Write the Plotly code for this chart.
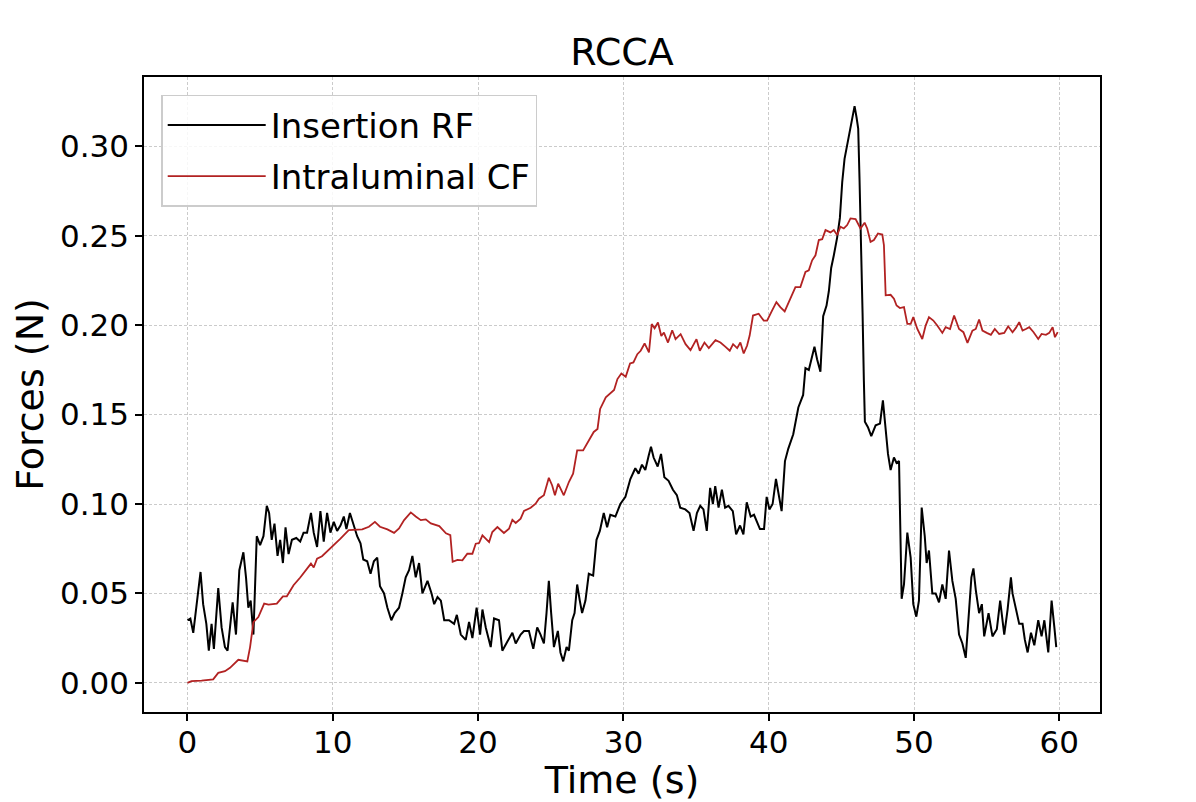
import plotly.graph_objects as go

# values (time in s, force in N)
time_rf = [0, 0.2, 0.4, 0.6, 0.9, 1.08, 1.3, 1.47, 1.66, 1.82, 2.12, 2.35, 2.58, 2.76, 2.93, 3.11, 3.34, 3.57, 3.85, 4.03,
           4.19, 4.35, 4.54, 4.65, 4.77, 5.0, 5.23, 5.46, 5.62, 5.8, 5.99, 6.2, 6.38, 6.57, 6.75, 6.96, 7.19, 7.49, 7.76, 7.99,
           8.23, 8.5, 8.69, 8.92, 9.15, 9.38, 9.61, 9.84, 10.07, 10.3, 10.53, 10.76, 10.94, 11.18, 11.45, 11.68, 11.91, 12.1, 12.37, 12.6,
           12.83, 13.06, 13.25, 13.53, 13.76, 14.03, 14.26, 14.56, 14.79, 15.02, 15.25, 15.48, 15.71, 15.94, 16.17, 16.52, 16.8, 16.98, 17.21, 17.44,
           17.67, 18.0, 18.35, 18.54, 18.81, 19.15, 19.38, 19.61, 19.9, 20.14, 20.3, 20.53, 20.87, 21.1, 21.44, 21.67, 22.01, 22.36, 22.59, 22.93,
           23.16, 23.5, 23.8, 24.07, 24.3, 24.53, 24.71, 24.87, 25.03, 25.22, 25.49, 25.67, 25.86, 26.09, 26.25, 26.48, 26.64, 26.82, 27.0, 27.16,
           27.39, 27.62, 27.92, 28.15, 28.38, 28.65, 28.88, 29.1, 29.45, 29.79, 30.14, 30.48, 30.82, 31.05, 31.28, 31.51, 31.74, 31.9, 32.08, 32.36,
           32.59, 32.82, 33.11, 33.41, 33.68, 33.91, 34.26, 34.55, 34.83, 35.06, 35.29, 35.51, 35.74, 35.97, 36.16, 36.32, 36.55, 36.78, 37.0, 37.23,
           37.53, 37.76, 38.03, 38.26, 38.49, 38.76, 38.99, 39.22, 39.4, 39.68, 39.86, 40.05, 40.27, 40.5, 40.66, 40.89, 41.12, 41.35, 41.69, 42.04,
           42.37, 42.53, 42.76, 42.92, 43.15, 43.33, 43.56, 43.75, 43.98, 44.14, 44.3, 44.48, 44.71, 44.9, 45.06, 45.22, 45.4, 45.59, 45.75, 45.91,
           46.05, 46.16, 46.25, 46.37, 46.46, 46.55, 46.62, 46.83, 47.06, 47.36, 47.66, 47.86, 48.05, 48.21, 48.39, 48.62, 48.8, 48.97, 49.03, 49.15,
           49.31, 49.54, 49.77, 49.95, 50.16, 50.34, 50.53, 50.74, 50.87, 51.03, 51.26, 51.49, 51.72, 51.95, 52.18, 52.41, 52.64, 52.87, 53.1, 53.33,
           53.56, 53.79, 53.95, 54.09, 54.25, 54.48, 54.67, 54.83, 55.13, 55.4, 55.7, 55.93, 56.21, 56.44, 56.67, 56.78, 57.01, 57.24, 57.47, 57.63,
           57.82, 58.05, 58.28, 58.55, 58.78, 58.97, 59.24, 59.47, 59.66, 59.79]
force_rf = [0.035, 0.036, 0.028, 0.042, 0.062, 0.044, 0.033, 0.018, 0.033, 0.019, 0.053, 0.031, 0.020, 0.018, 0.031, 0.045, 0.027, 0.063, 0.073, 0.059,
            0.042, 0.046, 0.027, 0.052, 0.082, 0.077, 0.082, 0.099, 0.095, 0.080, 0.089, 0.071, 0.080, 0.067, 0.087, 0.072, 0.080, 0.081, 0.079, 0.084,
            0.084, 0.095, 0.084, 0.076, 0.096, 0.079, 0.095, 0.084, 0.090, 0.085, 0.088, 0.093, 0.086, 0.095, 0.088, 0.082, 0.078, 0.069, 0.068, 0.061,
            0.068, 0.070, 0.054, 0.050, 0.042, 0.035, 0.039, 0.042, 0.050, 0.059, 0.063, 0.071, 0.059, 0.067, 0.050, 0.057, 0.050, 0.044, 0.048, 0.046,
            0.035, 0.035, 0.033, 0.038, 0.027, 0.024, 0.034, 0.025, 0.042, 0.027, 0.041, 0.031, 0.020, 0.036, 0.035, 0.018, 0.023, 0.028, 0.022, 0.027,
            0.029, 0.029, 0.019, 0.031, 0.027, 0.022, 0.039, 0.057, 0.039, 0.020, 0.029, 0.017, 0.012, 0.020, 0.018, 0.035, 0.039, 0.055, 0.046, 0.039,
            0.046, 0.061, 0.060, 0.080, 0.085, 0.095, 0.087, 0.094, 0.093, 0.100, 0.104, 0.114, 0.120, 0.117, 0.122, 0.119, 0.127, 0.132, 0.126, 0.121,
            0.128, 0.115, 0.113, 0.108, 0.105, 0.098, 0.097, 0.095, 0.085, 0.095, 0.099, 0.097, 0.085, 0.109, 0.100, 0.110, 0.098, 0.108, 0.098, 0.099,
            0.096, 0.083, 0.088, 0.083, 0.101, 0.093, 0.094, 0.090, 0.086, 0.086, 0.104, 0.097, 0.100, 0.114, 0.106, 0.096, 0.124, 0.131, 0.139, 0.154,
            0.161, 0.176, 0.175, 0.180, 0.188, 0.181, 0.174, 0.205, 0.211, 0.219, 0.232, 0.239, 0.249, 0.260, 0.280, 0.293, 0.301, 0.310, 0.317, 0.3225,
            0.316, 0.310, 0.282, 0.245, 0.207, 0.169, 0.146, 0.143, 0.138, 0.144, 0.145, 0.158, 0.140, 0.128, 0.119, 0.126, 0.123, 0.124, 0.098, 0.047,
            0.055, 0.084, 0.070, 0.044, 0.037, 0.046, 0.098, 0.082, 0.067, 0.074, 0.050, 0.050, 0.045, 0.055, 0.047, 0.074, 0.057, 0.047, 0.027, 0.022,
            0.014, 0.042, 0.059, 0.064, 0.052, 0.039, 0.044, 0.026, 0.039, 0.026, 0.030, 0.046, 0.027, 0.041, 0.059, 0.050, 0.042, 0.033, 0.033, 0.024,
            0.017, 0.028, 0.021, 0.035, 0.026, 0.035, 0.017, 0.046, 0.031, 0.020]

time_cf = [0, 0.28, 0.97, 1.77, 2.12, 2.58, 2.93, 3.5, 4.12, 4.31, 4.54, 4.88, 5.28, 5.58, 6.15, 6.57, 6.84, 7.3, 7.76, 8.23,
           8.5, 8.69, 8.92, 9.26, 9.84, 10.53, 11.1, 11.57, 12.03, 12.49, 12.9, 13.25, 13.76, 14.22, 14.56, 14.91, 15.37, 15.71, 16.06, 16.4,
           16.75, 17.33, 17.79, 18.09, 18.25, 18.58, 18.92, 19.26, 19.61, 19.84, 20.07, 20.3, 20.76, 20.98, 21.33, 21.78, 22.13, 22.36, 22.59, 22.93,
           23.16, 23.62, 23.96, 24.19, 24.53, 24.87, 25.1, 25.29, 25.51, 25.9, 26.25, 26.54, 26.82, 27.23, 27.5, 27.96, 28.22, 28.4, 28.79, 29.13,
           29.36, 29.59, 29.86, 30.16, 30.46, 30.69, 30.96, 31.19, 31.46, 31.76, 31.95, 32.15, 32.38, 32.61, 32.79, 33.07, 33.36, 33.59, 33.94, 34.28,
           34.62, 35.03, 35.26, 35.58, 35.88, 36.34, 36.68, 37.03, 37.32, 37.55, 37.83, 38.05, 38.28, 38.51, 38.69, 38.92, 39.31, 39.66, 39.89, 40.23,
           40.53, 40.8, 41.1, 41.49, 41.84, 42.18, 42.53, 42.76, 42.99, 43.22, 43.45, 43.68, 43.91, 44.25, 44.48, 44.71, 44.94, 45.17, 45.4, 45.63,
           45.98, 46.32, 46.6, 46.78, 47.01, 47.24, 47.52, 47.82, 47.93, 48.05, 48.39, 48.62, 48.8, 49.03, 49.31, 49.54, 49.77, 49.95, 50.23, 50.57,
           50.8, 51.03, 51.33, 51.6, 51.95, 52.18, 52.48, 52.76, 53.1, 53.4, 53.68, 54.02, 54.25, 54.48, 54.71, 55.01, 55.29, 55.56, 55.86, 56.21,
           56.48, 56.78, 57.01, 57.24, 57.47, 57.7, 57.93, 58.23, 58.55, 58.78, 59.08, 59.31, 59.54, 59.7, 59.89]
force_cf = [0, 0.001, 0.0013, 0.002, 0.0056, 0.0065, 0.0084, 0.0129, 0.012, 0.020, 0.034, 0.0368, 0.0443, 0.0437, 0.0443, 0.0484, 0.0484, 0.0546, 0.0589, 0.0639,
            0.0667, 0.0645, 0.0695, 0.0708, 0.0751, 0.0807, 0.0854, 0.0858, 0.0858, 0.0873, 0.090, 0.0873, 0.0858, 0.0839, 0.0864, 0.091, 0.0953, 0.093, 0.091, 0.0914,
            0.0892, 0.0877, 0.0836, 0.0826, 0.0677, 0.0688, 0.0685, 0.0722, 0.0722, 0.0778, 0.0782, 0.0825, 0.0787, 0.0843, 0.0871, 0.0838, 0.0862, 0.0912, 0.0894, 0.0918,
            0.0961, 0.0979, 0.1002, 0.103, 0.1049, 0.1147, 0.1104, 0.1049, 0.1114, 0.1049, 0.1123, 0.117, 0.130, 0.130, 0.1338, 0.1403, 0.142, 0.1532, 0.1597, 0.1625,
            0.1638, 0.1699, 0.173, 0.1712, 0.1786, 0.1792, 0.1838, 0.1857, 0.1898, 0.1848, 0.2006, 0.1983, 0.2015, 0.194, 0.1959, 0.1903, 0.1972, 0.1922, 0.195, 0.1894,
            0.1861, 0.1922, 0.1857, 0.1903, 0.1872, 0.1916, 0.1903, 0.1879, 0.1857, 0.1894, 0.1872, 0.1903, 0.1842, 0.1885, 0.1942, 0.2054, 0.2064, 0.2026, 0.2026, 0.2082,
            0.2129, 0.2101, 0.2077, 0.2148, 0.2213, 0.2213, 0.2298, 0.2307, 0.2363, 0.2391, 0.2476, 0.2481, 0.2532, 0.2519, 0.2532, 0.2504, 0.2551, 0.2541, 0.256, 0.2597,
            0.2594, 0.2541, 0.2573, 0.2541, 0.2466, 0.2476, 0.2513, 0.2507, 0.2448, 0.2167, 0.217, 0.2148, 0.211, 0.2096, 0.2101, 0.2007, 0.2007, 0.2045, 0.1979, 0.1923,
            0.1998, 0.2045, 0.2026, 0.1998, 0.1957, 0.1989, 0.1979, 0.2054, 0.1979, 0.1961, 0.1901, 0.197, 0.1979, 0.2032, 0.197, 0.1957, 0.1946, 0.1979, 0.1951, 0.1957,
            0.1994, 0.1961, 0.1985, 0.2017, 0.197, 0.1979, 0.1989, 0.1961, 0.1923, 0.1951, 0.1946, 0.1957, 0.1989, 0.1933, 0.1961]

x_ticks = [0, 10, 20, 30, 40, 50, 60]
y_ticks = [0.00, 0.05, 0.10, 0.15, 0.20, 0.25, 0.30]
y_labels = ["0.00", "0.05", "0.10", "0.15", "0.20", "0.25", "0.30"]

font = "DejaVu Sans"

fig = go.Figure()
fig.add_trace(go.Scatter(x=time_rf, y=force_rf, mode="lines", name="Insertion RF", legendgroup="rf",
                         line=dict(color="black", width=2)))
fig.add_trace(go.Scatter(x=time_cf, y=force_cf, mode="lines", name="Intraluminal CF", legendgroup="cf",
                         line=dict(color="#b22222", width=1.8)))

axis_common = dict(showline=True, linecolor="black", linewidth=1.5, mirror=True,
                   ticks="outside", ticklen=7, tickwidth=1.5, tickcolor="black",
                   showgrid=True, gridcolor="#cbcbcb", griddash="3px,2px", gridwidth=0.8,
                   zeroline=False, automargin=False,
                   tickfont=dict(family=font, size=31, color="black"))

fig.update_xaxes(range=[-2.99, 62.8], tickvals=x_ticks, ticklabelstandoff=-5,
                 title=dict(text="Time (s)", font=dict(family=font, size=38, color="black")),
                 **axis_common)
fig.update_yaxes(range=[-0.0163, 0.3388], tickvals=y_ticks, ticktext=y_labels,
                 title=dict(text="Forces (N)", font=dict(family=font, size=38, color="black")),
                 **axis_common)

# page body adds ~8px offset, so the figure is a bit smaller than the window
fig.update_layout(
    width=1188, height=794,
    margin=dict(l=136, r=96, t=69, b=90),
    paper_bgcolor="white", plot_bgcolor="white",
    title=dict(text="RCCA", xref="paper", x=0.5, xanchor="center", y=0.9446, yanchor="middle",
               font=dict(family=font, size=38, color="black")),
    legend=dict(x=0.018, y=0.972, xanchor="left", yanchor="top", itemwidth=98,
                traceorder="grouped", tracegroupgap=4,
                bgcolor="rgba(255,255,255,0.85)", bordercolor="#cccccc", borderwidth=1.5,
                font=dict(family=font, size=34, color="black")),
    showlegend=True,
)

fig.write_html("out.html")
